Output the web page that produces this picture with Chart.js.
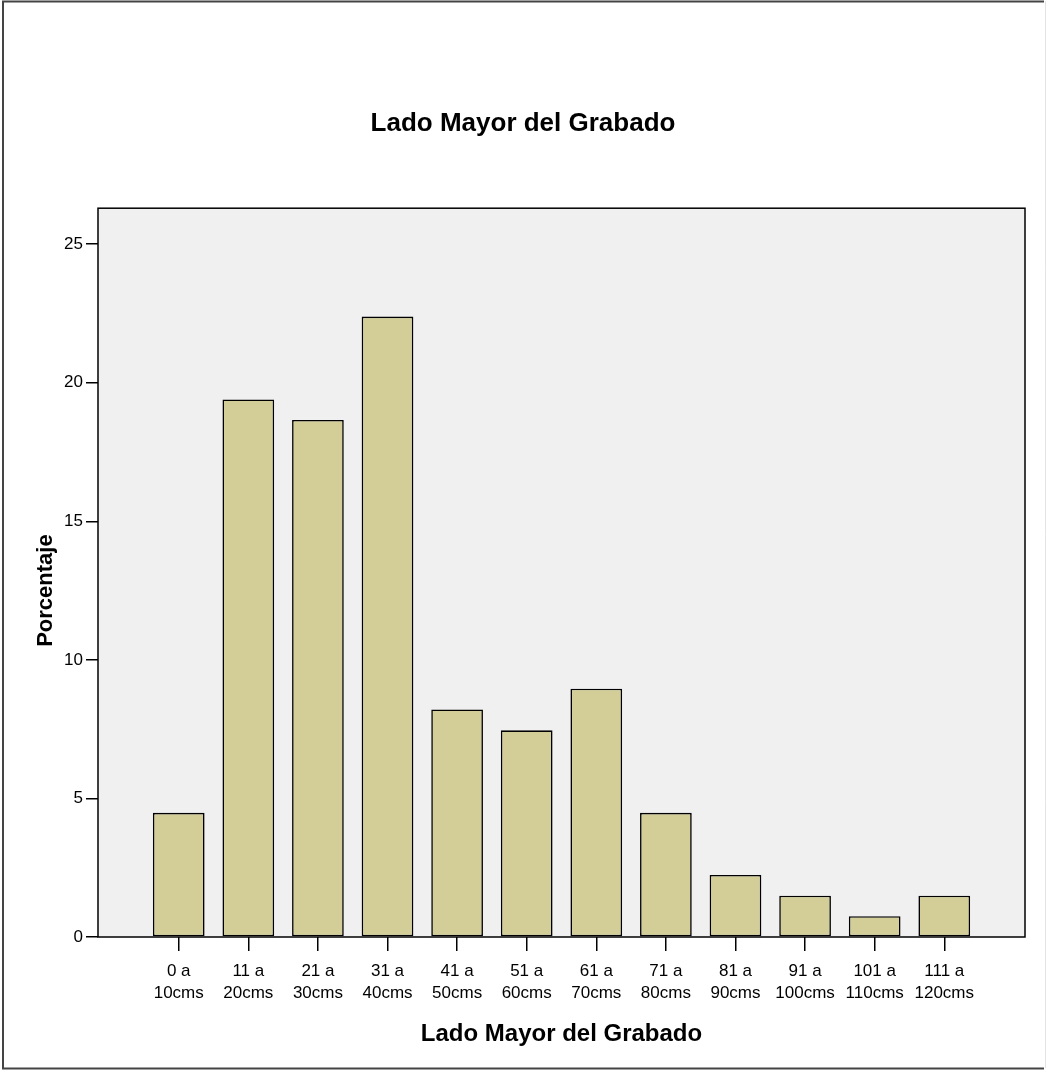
<!DOCTYPE html>
<html>
<head>
<meta charset="utf-8">
<title>Lado Mayor del Grabado</title>
<script src="https://cdn.jsdelivr.net/npm/chart.js@4/dist/chart.umd.min.js"></script>
<style>
  html, body { margin: 0; padding: 0; background: #ffffff; }
  #wrap { position: relative; width: 1046px; height: 1070px; }
</style>
</head>
<body>
<div id="wrap"><canvas id="chart"></canvas></div>
<script>
// Size ranges of the longest side of each engraving
const categories = [
  ['0 a', '10cms'], ['11 a', '20cms'], ['21 a', '30cms'], ['31 a', '40cms'],
  ['41 a', '50cms'], ['51 a', '60cms'], ['61 a', '70cms'], ['71 a', '80cms'],
  ['81 a', '90cms'], ['91 a', '100cms'], ['101 a', '110cms'], ['111 a', '120cms']
];
// Percentage of engravings in each range
const percentages = [4.48, 19.40, 18.66, 22.39, 8.21, 7.46, 8.96, 4.48, 2.24, 1.49, 0.75, 1.49];
// Values labelled on the vertical axis
const yTickValues = [0, 5, 10, 15, 20, 25];

const chartTitle = 'Lado Mayor del Grabado';
const xAxisTitle = 'Lado Mayor del Grabado';
const yAxisTitle = 'Porcentaje';

const FONT = "'Liberation Sans', Arial, sans-serif";

// Grey plot background, black frame, vertical axis title and page border
const framePlugin = {
  id: 'frame',
  beforeDraw(chart) {
    const { ctx, chartArea: a } = chart;
    ctx.save();
    ctx.fillStyle = '#f0f0f0';
    ctx.fillRect(a.left, a.top, a.right - a.left, a.bottom - a.top);
    ctx.restore();
  },
  afterDraw(chart) {
    const { ctx, chartArea: a, scales } = chart;
    ctx.save();
    ctx.strokeStyle = '#000000';
    ctx.lineWidth = 1.5;
    ctx.strokeRect(a.left, a.top, a.right - a.left, a.bottom - a.top);

    // vertical axis title, centred on the labelled range
    const yMid = (scales.y.getPixelForValue(yTickValues[0]) +
                  scales.y.getPixelForValue(yTickValues[yTickValues.length - 1])) / 2;
    ctx.translate(46, yMid);
    ctx.rotate(-Math.PI / 2);
    ctx.fillStyle = '#000000';
    ctx.font = 'bold 22px ' + FONT;
    ctx.textAlign = 'center';
    ctx.textBaseline = 'middle';
    ctx.fillText(yAxisTitle, 0, 0);
    ctx.restore();

    // outer page border
    ctx.save();
    ctx.strokeStyle = '#444444';
    ctx.lineWidth = 2;
    ctx.beginPath();
    ctx.moveTo(1044, 1.5);
    ctx.lineTo(3, 1.5);
    ctx.lineTo(3, 1068.5);
    ctx.lineTo(1044, 1068.5);
    ctx.stroke();
    ctx.strokeStyle = '#e4e4e4';
    ctx.lineWidth = 1;
    ctx.beginPath();
    ctx.moveTo(1045.5, 1);
    ctx.lineTo(1045.5, 1068);
    ctx.stroke();
    ctx.restore();
  }
};

new Chart(document.getElementById('chart'), {
  type: 'bar',
  data: {
    datasets: [{
      label: yAxisTitle,
      data: percentages.map((v, i) => ({ x: i, y: v })),
      backgroundColor: '#d3ce98',
      borderColor: '#000000',
      borderWidth: 1.6,
      borderSkipped: false,
      categoryPercentage: 1,
      barPercentage: 0.743
    }]
  },
  options: {
    responsive: true,
    maintainAspectRatio: false,
    animation: false,
    layout: { padding: { left: 21, right: 21, top: 0, bottom: 0 } },
    plugins: {
      legend: { display: false },
      tooltip: { enabled: false },
      title: {
        display: true,
        text: chartTitle,
        color: '#000000',
        font: { family: FONT, size: 26, weight: 'bold', lineHeight: 1.2 },
        padding: { top: 108, bottom: 69 }
      }
    },
    scales: {
      x: {
        type: 'linear',
        min: -1.16,
        max: categories.length - 1 + 1.16,
        offset: false,
        afterBuildTicks(scale) {
          scale.ticks = categories.map((_, i) => ({ value: i }));
        },
        afterFit(scale) { scale.height = 1070 - 937; },
        ticks: {
          autoSkip: false,
          maxRotation: 0,
          minRotation: 0,
          padding: 10,
          color: '#000000',
          font: { family: FONT, size: 17, lineHeight: 1.25 },
          callback: (value) => categories[value]
        },
        grid: {
          offset: false,
          drawOnChartArea: false,
          drawTicks: true,
          tickLength: 14,
          color: '#000000',
          lineWidth: 1.5
        },
        border: { display: false },
        title: {
          display: true,
          text: xAxisTitle,
          color: '#000000',
          font: { family: FONT, size: 24, weight: 'bold', lineHeight: 1.2 },
          padding: { top: 0, bottom: 21 }
        }
      },
      y: {
        min: 0,
        max: 26.3,
        afterBuildTicks(scale) {
          scale.ticks = yTickValues.map(v => ({ value: v }));
        },
        afterFit(scale) { scale.width = 77; },
        ticks: {
          padding: 3,
          color: '#000000',
          font: { family: FONT, size: 17 }
        },
        grid: {
          drawOnChartArea: false,
          drawTicks: true,
          tickLength: 12,
          color: '#000000',
          lineWidth: 1.5
        },
        border: { display: false },
        title: { display: false }
      }
    }
  },
  plugins: [framePlugin]
});
</script>
</body>
</html>
